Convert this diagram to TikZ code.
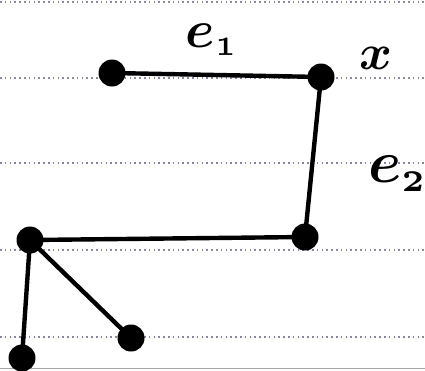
\documentclass[tikz,border=0pt]{standalone}
\begin{document}
\begin{tikzpicture}[x=1pt,y=-1pt,
  vtx/.style={circle,fill=black,inner sep=0pt,minimum size=27pt},
  edge/.style={line width=4.4pt,line cap=round},
  ruled/.style={draw={rgb,255:red,135;green,135;blue,160},line width=1.2pt,dash pattern=on 1.6pt off 3.2pt},
  lbl/.style={inner sep=0pt,font=\boldmath}]
\useasboundingbox (0,0) rectangle (425,370);
\fill[white] (0,0) rectangle (425,370);
% ruled lines
\draw[ruled] (0,2) -- (425,2);
\draw[ruled] (0,78) -- (425,78);
\draw[ruled] (0,163) -- (425,163);
\draw[ruled] (0,250) -- (425,250);
\draw[ruled] (0,337) -- (425,337);
\draw[gray!70,line width=1.5pt] (0,368.5) -- (425,368.5);
% vertices
\node[vtx] (a) at (112,73) {};
\node[vtx] (b) at (321,77) {};
\node[vtx] (c) at (305,237) {};
\node[vtx] (d) at (30,240) {};
\node[vtx] (e) at (131,338) {};
\node[vtx] (f) at (22,358) {};
% edges
\draw[edge] (a.center) -- (b.center);
\draw[edge] (b.center) -- (c.center);
\draw[edge] (c.center) -- (d.center);
\draw[edge] (d.center) -- (e.center);
\draw[edge] (d.center) -- (f.center);
% labels
\node[lbl] (l1) at (212,40) {\scalebox{5.3}{$e_{\scriptscriptstyle 1}$}};
\node[lbl] (lx) at (376,58) {\scalebox{5}{$x$}};
\node[lbl] (l2) at (398,174) {\scalebox{6}{$e_{\scriptscriptstyle 2}$}};
\end{tikzpicture}
\end{document}
